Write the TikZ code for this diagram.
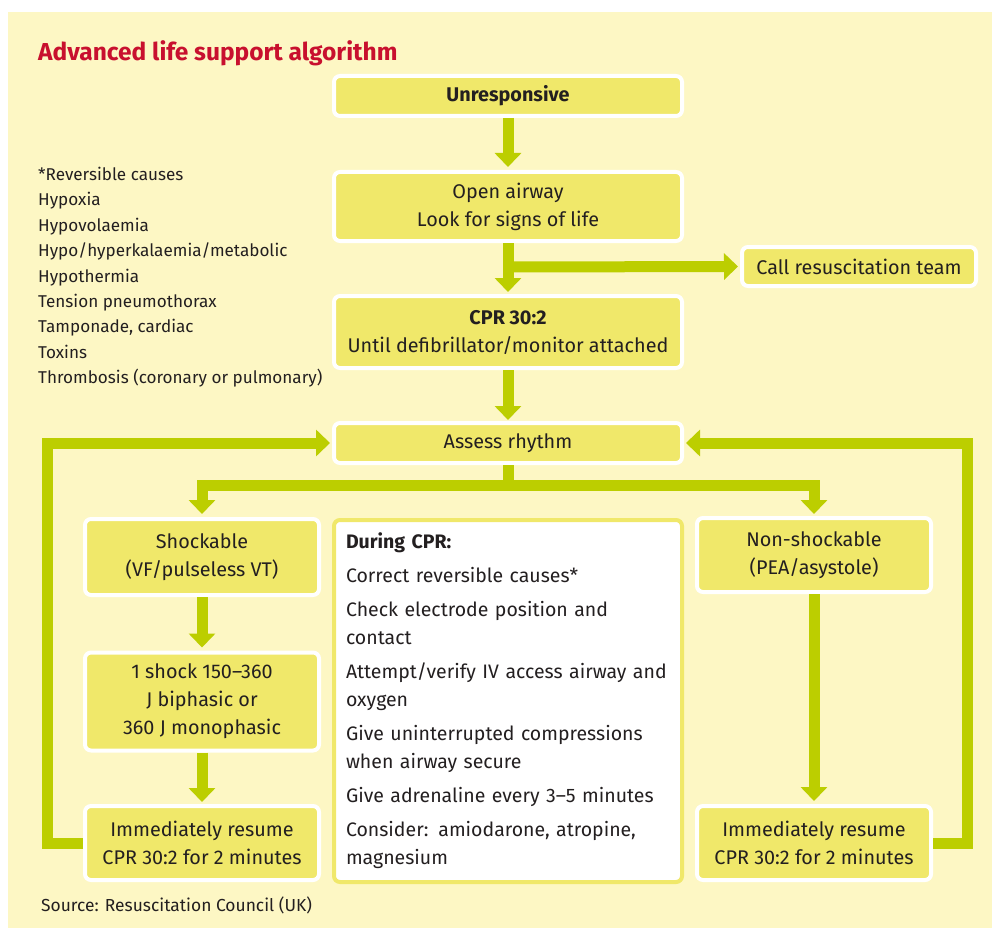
\documentclass[tikz,border=0pt]{standalone}
\usepackage{fontspec}
\setmainfont{Fira Sans}
\usetikzlibrary{arrows.meta}
\definecolor{panel}{RGB}{253,247,196}
\definecolor{boxfill}{RGB}{240,232,106}
\definecolor{flowgreen}{RGB}{188,206,0}
\definecolor{titlered}{RGB}{200,16,46}
\definecolor{ink}{RGB}{35,31,32}
\tikzset{
  box/.style={draw=white, line width=4pt, fill=boxfill, rounded corners=6pt,
    minimum width=348pt, inner sep=0pt, align=center, text=ink,
    font=\fontsize{19.8}{28}\selectfont},
  sidebox/.style={box, minimum width=234pt},
  flow/.style={draw=flowgreen, line width=11pt, -{Triangle[width=26pt,length=14pt]}}
}
\begin{document}
\begin{tikzpicture}[x=1pt,y=-1pt]
  \useasboundingbox (0,0) rectangle (992,928);
  % background panel
  \fill[panel] (8,12) rectangle (992,928);
  \node[anchor=base west, inner sep=0pt, text=titlered, font=\fontsize{24.5}{30}\selectfont\bfseries]
    (title) at (38,61) {Advanced life support algorithm};
  % reversible causes
  \node[anchor=north west, inner sep=0pt, align=left, text=ink,
    font=\fontsize{17.1}{25.4}\selectfont] (causes) at (38,167)
    {*Reversible causes\\Hypoxia\\Hypovolaemia\\Hypo/hyperkalaemia/metabolic\\Hypothermia\\
     Tension pneumothorax\\Tamponade, cardiac\\Toxins\\Thrombosis (coronary or pulmonary)};
  % main column
  \node[box, minimum height=40pt] (unr) at (508,96) {\textbf{Unresponsive}};
  \node[box, minimum height=69pt] (open) at (508,206.5) {Open airway\\Look for signs of life};
  \node[sidebox, minimum height=39pt] (call) at (859,266.5) {Call resuscitation team};
  \node[box, minimum height=72pt] (cpr) at (508,332) {\textbf{CPR 30:2}\\Until defibrillator/monitor attached};
  \node[box, minimum height=40pt] (assess) at (508,443) {Assess rhythm};
  % shockable side
  \node[sidebox, minimum height=76pt] (shock) at (202,557) {Shockable\\(VF/pulseless VT)};
  \node[sidebox, minimum height=98pt] (oneshock) at (202,701.5) {1 shock 150–360\\J biphasic or\\360 J monophasic};
  \node[sidebox, minimum height=74pt] (resumeL) at (202,843) {Immediately resume\\CPR 30:2 for 2 minutes};
  % non-shockable side
  \node[sidebox, minimum height=74pt] (nonshock) at (814,555) {Non-shockable\\(PEA/asystole)};
  \node[sidebox, minimum height=74pt] (resumeR) at (814,843) {Immediately resume\\CPR 30:2 for 2 minutes};
  % during CPR
  \node[box, draw=boxfill, fill=white, minimum height=362pt, text width=324pt,
    inner xsep=12pt, align=left, font=\fontsize{19.5}{28}\selectfont] (during) at (508,701)
    {\textbf{During CPR:}\\[6pt]
     Correct reversible causes*\\[6pt]
     Check electrode position and\\contact\\[6pt]
     Attempt/verify IV access airway and\\oxygen\\[6pt]
     Give uninterrupted compressions\\when airway secure\\[6pt]
     Give adrenaline every 3–5 minutes\\[6pt]
     Consider: amiodarone, atropine,\\magnesium};
  % arrows
  \coordinate (branch) at (508,267);
  \coordinate (split) at (508,485);
  \coordinate (loopL) at (47.5,843);
  \coordinate (loopR) at (967.5,843);
  \draw[flow, shorten >=3pt] (unr.south) -- (open.north);
  \draw[flow, shorten >=2pt] (open.south) -- (cpr.north);
  \draw[flow, shorten >=2pt] (branch) -- (call.west);
  \draw[flow, shorten >=1pt] (cpr.south) -- (assess.north);
  \draw[flow, shorten >=3pt] (assess.south) -- (split) -| (shock.north);
  \draw[flow, shorten >=2pt] (assess.south) -- (split) -| (nonshock.north);
  \draw[flow, shorten >=3pt] (shock.south) -- (oneshock.north);
  \draw[flow, shorten >=2pt] (oneshock.south) -- (resumeL.north);
  \draw[flow, shorten >=3pt] (nonshock.south) -- (resumeR.north);
  \draw[flow, shorten >=2pt] (resumeL.west) -- (loopL) |- (assess.west);
  \draw[flow, shorten >=2pt] (resumeR.east) -- (loopR) |- (assess.east);
  % source
  \node[anchor=west, inner sep=0pt, text=ink, font=\fontsize{17.4}{20}\selectfont] (source) at (41,905)
    {Source: Resuscitation Council (UK)};
\end{tikzpicture}
\end{document}
